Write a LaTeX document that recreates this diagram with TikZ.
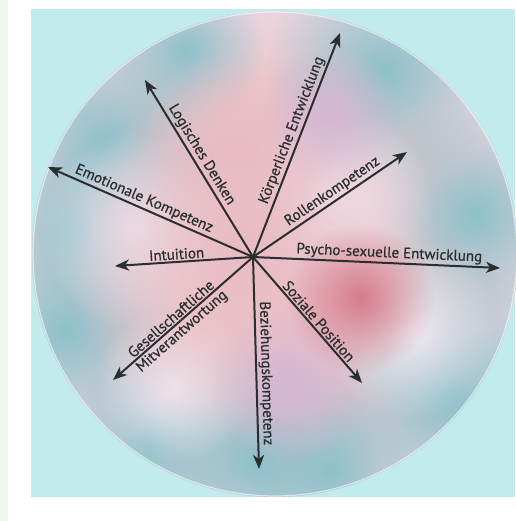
\documentclass[tikz,border=0pt]{standalone}
\usepackage{fontspec}
\setmainfont{PT Sans}
\newfontfamily\lblfont{PT Sans}[FakeBold=0.7]
\usetikzlibrary{arrows.meta,fadings}
\definecolor{bgblue}{HTML}{C2EBEE}
\definecolor{edgegreen}{HTML}{F1F6EC}
\definecolor{axisgray}{HTML}{2A2E2F}
\definecolor{discpink}{HTML}{EDC9CE}
\definecolor{disclav}{HTML}{E8DEEA}
\definecolor{discteal}{HTML}{A0CAD2}
\definecolor{blobteal}{HTML}{8DC1CB}
\definecolor{blobwhite}{HTML}{F0EAF2}
\definecolor{blobpink}{HTML}{E9BCC5}
\definecolor{blobred}{HTML}{D67C8C}
\definecolor{blobplum}{HTML}{D7B6D3}
\pgfdeclareradialshading{disc}{\pgfpoint{0bp}{0bp}}{%
  color(0bp)=(discpink); color(18bp)=(discpink);
  color(30bp)=(disclav); color(40bp)=(discteal);
  color(46bp)=(discteal!70!white); color(50bp)=(white!80!bgblue)}
\tikzfading[name=softdot, inner color=transparent!0, outer color=transparent!100]

\begin{document}
\begin{tikzpicture}[x=1pt,y=-1pt,
  axis/.style={draw=axisgray, line width=2pt,
    -{Stealth[length=14pt,width=11pt,inset=4pt]}},
  lbl/.style={font=\lblfont\fontsize{15}{17}\selectfont, text=axisgray,
    inner sep=1.5pt, sloped, pos=0.55},
  blob/.style={path fading=softdot}
]
\useasboundingbox (0,0) rectangle (515,521);

% --- background ---
\fill[white] (0,0) rectangle (515,521);
\fill[edgegreen] (0,0) rectangle (8,521);
\fill[bgblue] (31,9) rectangle (515,497);

% --- blurred disc ---
\begin{scope}
  \clip (275,254) circle (243);
  \shade[shading=disc] (275,254) circle (243);
  \foreach \bx/\by/\br in {105/145/60, 385/70/60, 475/215/55, 450/395/70,
                          255/460/60, 65/330/60, 185/50/40, 150/445/45,
                          80/230/40, 330/470/40}
    \fill[blobteal, blob] (\bx,\by) circle (2*\br);
  \foreach \bx/\by/\br in {140/230/50, 335/205/50, 410/330/45, 175/385/40}
    \fill[blobwhite, blob] (\bx,\by) circle (2*\br);
  \fill[blobpink, blob] (245,255) circle (180);
  \fill[blobpink, blob] (235,150) circle (100);
  \fill[blobplum, blob] (290,385) circle (80);
  \fill[blobplum, blob] (330,115) circle (70);
  \fill[blobred, blob] (360,298) circle (75);
\end{scope}
\draw[white, opacity=.6, line width=1.2pt] (275,254) circle (242);

% --- axes ---
\coordinate (c) at (253,257);
\foreach \tip/\tx/\ty/\txt in {
    logic/145/80/Logisches Denken,
    body/340/33/Körperliche Entwicklung,
    role/407/152/Rollenkompetenz,
    psych/500/268/Psycho-sexuelle Entwicklung,
    social/362/383/Soziale Position,
    relate/259/469/Beziehungskompetenz,
    intuit/115/266/Intuition,
    emo/48/167/Emotionale Kompetenz}
{
  \coordinate (\tip) at (\tx,\ty);
  \draw[axis] (c) -- (\tip) node[lbl, above] {\txt};
}
\coordinate (society) at (113,380);
\draw[axis] (c) -- (society)
  node[lbl, above] {Gesellschaftliche}
  node[lbl, below] {Mitverantwortung};

\end{tikzpicture}
\end{document}
